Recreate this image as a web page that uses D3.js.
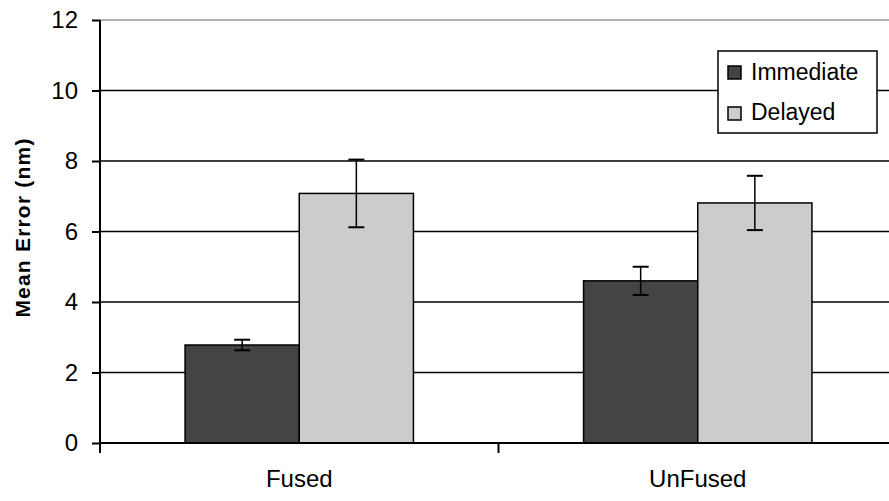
<!DOCTYPE html>
<html><head><meta charset="utf-8">
<script src="https://cdn.jsdelivr.net/npm/d3@7/dist/d3.min.js"></script>
<style>body{margin:0;background:#fff}svg{display:block}text{font-family:"Liberation Sans",Arial,sans-serif}</style>
</head><body>
<script>
const categories = ["Fused", "UnFused"];
const seriesNames = ["Immediate", "Delayed"];
const immediate = [2.78, 4.6];
const delayed = [7.08, 6.81];
const immediateErr = [0.15, 0.4];
const delayedErr = [0.96, 0.77];
const yTicks = [0, 2, 4, 6, 8, 10, 12];
const colors = ["#444444", "#cccccc"];

const W = 889, H = 501;
const m = {left: 100, top: 20, right: -8, bottom: 58};
const svg = d3.select("body").append("svg").attr("width", W).attr("height", H);
const x0 = d3.scaleBand().domain(categories).range([m.left, W - m.right]).paddingInner(0).paddingOuter(0);
const y = d3.scaleLinear().domain([0, 12]).range([H - m.bottom, m.top]);
const x1 = d3.scaleBand().domain(seriesNames).range([0, x0.bandwidth()]).paddingOuter(0.745).paddingInner(0);

// gridlines
svg.append("g").selectAll("line").data(yTicks.filter(d => d > 0)).join("line")
  .attr("x1", m.left).attr("x2", W).attr("y1", d => y(d)).attr("y2", d => y(d))
  .attr("stroke", d => d === 12 ? "#999" : "#000").attr("stroke-width", 1.5);

const data = categories.map((c, i) => ({c, vals: [
  {s: seriesNames[0], v: immediate[i], e: immediateErr[i]},
  {s: seriesNames[1], v: delayed[i], e: delayedErr[i]}]}));

const g = svg.append("g").selectAll("g").data(data).join("g")
  .attr("transform", d => `translate(${x0(d.c)},0)`);
g.selectAll("rect").data(d => d.vals).join("rect")
  .attr("x", d => x1(d.s)).attr("width", x1.bandwidth())
  .attr("y", d => y(d.v)).attr("height", d => y(0) - y(d.v))
  .attr("fill", (d, i) => colors[i]).attr("stroke", "#000").attr("stroke-width", 1.5);
const eb = g.selectAll("g.eb").data(d => d.vals).join("g").attr("class", "eb")
  .attr("transform", d => `translate(${x1(d.s) + x1.bandwidth() / 2},0)`);
eb.append("line").attr("y1", d => y(d.v + d.e)).attr("y2", d => y(d.v - d.e)).attr("stroke", "#000").attr("stroke-width", 1.5);
eb.append("line").attr("x1", -8).attr("x2", 8).attr("y1", d => y(d.v + d.e)).attr("y2", d => y(d.v + d.e)).attr("stroke", "#000").attr("stroke-width", 2);
eb.append("line").attr("x1", -8).attr("x2", 8).attr("y1", d => y(d.v - d.e)).attr("y2", d => y(d.v - d.e)).attr("stroke", "#000").attr("stroke-width", 2);

// y axis
const ya = svg.append("g").attr("transform", `translate(${m.left},0)`)
  .call(d3.axisLeft(y).tickValues(yTicks).tickSize(8).tickPadding(14));
ya.select(".domain").attr("stroke-width", 2).attr("d", `M0,${y(12)}V${y(0)}`);
ya.selectAll(".tick line").attr("stroke-width", 2);
ya.selectAll("text").attr("font-size", 24).attr("font-family", "Liberation Sans, Arial, sans-serif").attr("fill", "#000");

// x axis
const xa = svg.append("g").attr("transform", `translate(0,${y(0)})`);
xa.append("line").attr("x1", m.left).attr("x2", W).attr("stroke", "#000").attr("stroke-width", 2);
xa.selectAll("line.t").data([m.left, x0("UnFused")]).join("line").attr("class", "t")
  .attr("x1", d => d).attr("x2", d => d).attr("y1", 0).attr("y2", 10).attr("stroke", "#000").attr("stroke-width", 2);
xa.selectAll("text").data(categories).join("text")
  .attr("x", d => x0(d) + x0.bandwidth() / 2).attr("y", 44)
  .attr("text-anchor", "middle").attr("font-size", 24).text(d => d);

// y title
svg.append("text").attr("transform", `translate(30,${y(6) - 4}) rotate(-90)`)
  .attr("text-anchor", "middle").attr("font-size", 21).attr("font-weight", "bold")
  .attr("letter-spacing", 1.2).text("Mean Error (nm)");

// legend
const lg = svg.append("g").attr("transform", "translate(718,51)");
lg.append("rect").attr("width", 159).attr("height", 82).attr("fill", "#fff").attr("stroke", "#000").attr("stroke-width", 1.5);
seriesNames.forEach((s, i) => {
  lg.append("rect").attr("x", 10).attr("y", 15 + i * 41).attr("width", 13).attr("height", 13)
    .attr("fill", colors[i]).attr("stroke", "#000").attr("stroke-width", 1.5);
  lg.append("text").attr("x", 33).attr("y", 29 + i * 40).attr("font-size", 23).text(s);
});
</script>
</body></html>
